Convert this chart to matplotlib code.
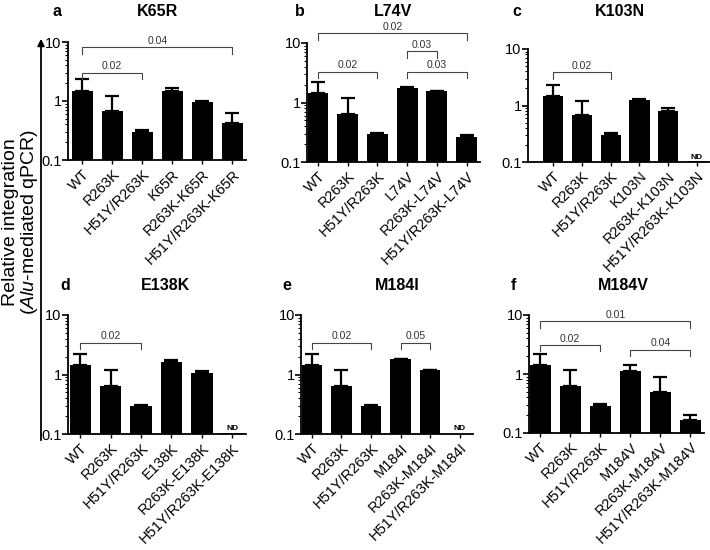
import numpy as np
import matplotlib
matplotlib.use('Agg')
import matplotlib.pyplot as plt
from matplotlib.ticker import FixedLocator, FixedFormatter, LogLocator, NullFormatter

plt.rcParams['font.family'] = ['Liberation Sans', 'DejaVu Sans']
plt.rcParams['mathtext.fontset'] = 'custom'
plt.rcParams['mathtext.rm'] = 'Liberation Sans'
plt.rcParams['mathtext.it'] = 'Liberation Sans:italic'

# data ---------------------------------------------------------------
common = ['WT', 'R263K', 'H51Y/R263K']
mutations = ['K65R', 'L74V', 'K103N', 'E138K', 'M184I', 'M184V']
letters = ['a', 'b', 'c', 'd', 'e', 'f']

# mean relative integration, nan = not detected
mean_a = [1.50, 0.67, 0.30, 1.50, 0.97, 0.42]
mean_b = [1.42, 0.65, 0.29, 1.76, 1.55, 0.265]
mean_c = [1.45, 0.67, 0.30, 1.27, 0.80, 0.104]
mean_d = [1.42, 0.65, 0.30, 1.62, 1.07, 0.104]
mean_e = [1.42, 0.65, 0.29, 1.80, 1.17, np.nan]
mean_f = [1.42, 0.62, 0.29, 1.12, 0.50, 0.166]

# upper error bars
sd_a = [0.85, 0.56, 0.02, 0.15, 0.03, 0.20]
sd_b = [0.83, 0.55, 0.02, 0.04, 0.02, 0.015]
sd_c = [0.85, 0.55, 0.02, 0.01, 0.12, 0.0]
sd_d = [0.78, 0.55, 0.01, 0.10, 0.07, 0.0]
sd_e = [0.78, 0.55, 0.02, 0.05, 0.03, 0.0]
sd_f = [0.78, 0.53, 0.02, 0.32, 0.40, 0.034]

# which bars are ND
nd_c = [5]
nd_d = [5]
nd_e = [5]

# p-value brackets: (from bar, to bar, height, label)
pv_a = [(0, 2, 3.0, '0.02'), (0, 5, 8.2, '0.04')]
pv_b = [(0, 2, 3.3, '0.02'), (3, 5, 3.3, '0.03'), (3, 4, 7.3, '0.03'), (0, 5, 14.5, '0.02')]
pv_c = [(0, 2, 3.85, '0.02')]
pv_d = [(0, 2, 3.4, '0.02')]
pv_e = [(0, 2, 3.4, '0.02'), (3, 4, 3.4, '0.05')]
pv_f = [(0, 2, 3.1, '0.02'), (3, 5, 2.6, '0.04'), (0, 5, 7.8, '0.01')]

means = [mean_a, mean_b, mean_c, mean_d, mean_e, mean_f]
sds = [sd_a, sd_b, sd_c, sd_d, sd_e, sd_f]
nds = [[], [], nd_c, nd_d, nd_e, []]
pvs = [pv_a, pv_b, pv_c, pv_d, pv_e, pv_f]

# layout in pixels: left, right, top, bottom, xmin
W, H = 710, 550
boxes = [(68, 246, 42, 160, -0.47),
         (307, 480, 43, 162, -0.37),
         (528, 710, 49, 162, -0.87),
         (68, 246, 315, 434, -0.40),
         (301, 473, 315, 434, -0.37),
         (529, 704, 315, 433, -0.37)]
heads = [(57, 157, 12), (300, 393, 12), (517, 620, 12),
         (65, 165, 285), (287, 397, 285), (513, 623, 285)]

fig = plt.figure(figsize=(W / 100, H / 100), dpi=100)

for n in range(6):
    l, r, t, b, xmin = boxes[n]
    ax = fig.add_axes([l / W, 1 - b / H, (r - l) / W, (b - t) / H])
    labels = common + [mutations[n]] + ['R263K-' + mutations[n], 'H51Y/R263K-' + mutations[n]]
    x = np.arange(len(labels))
    m = np.array(means[n], dtype=float)
    s = np.array(sds[n], dtype=float)
    ax.bar(x, np.nan_to_num(m, nan=0.0), width=0.7, color='black', bottom=0)
    ok = s > 0
    ax.errorbar(x[ok], m[ok], yerr=[np.zeros(ok.sum()), s[ok]], fmt='none',
                ecolor='black', elinewidth=1.6, capsize=4.7, capthick=1.6)
    ax.set_yscale('log')
    ax.set_ylim(0.1, 10)
    ax.set_xlim(xmin, 5.45)
    ax.yaxis.set_major_locator(FixedLocator([0.1, 1, 10]))
    ax.yaxis.set_major_formatter(FixedFormatter(['0.1', '1', '10']))
    ax.yaxis.set_minor_locator(LogLocator(base=10, subs=np.arange(2, 10)))
    ax.yaxis.set_minor_formatter(NullFormatter())
    ax.set_xticks(x)
    ax.set_xticklabels(labels, rotation=45, ha='right', rotation_mode='anchor', fontsize=10.5)
    ax.tick_params(axis='y', which='major', length=4, width=1.2, labelsize=10.5, pad=0.5)
    ax.tick_params(axis='y', which='minor', length=2.5, width=0.8)
    ax.tick_params(axis='x', length=3, width=1.0, pad=2)
    for side in ['top', 'right']:
        ax.spines[side].set_visible(False)
    for side in ['left', 'bottom']:
        ax.spines[side].set_linewidth(1.3)

    for i in nds[n]:
        ax.text(x[i], 0.106, 'ND', ha='center', va='bottom', fontsize=6,
                fontweight='bold')

    drop = 10 ** 0.11
    for i, j, y, txt in pvs[n]:
        ax.plot([x[i], x[i], x[j], x[j]], [y / drop, y, y, y / drop],
                color='#444444', lw=0.8, clip_on=False)
        ax.text((x[i] + x[j]) / 2, y * 1.06, txt, ha='center', va='bottom',
                fontsize=7.5, color='#333333', clip_on=False)

    lx, tx, ty = heads[n]
    fig.text(lx / W, 1 - ty / H, letters[n], ha='center', va='center',
             fontsize=11.5, fontweight='bold')
    fig.text(tx / W, 1 - ty / H, mutations[n], ha='center', va='center',
             fontsize=11.5, fontweight='bold')

# shared y label with arrow
fig.text(11 / W, 1 - 222 / H, 'Relative integration', rotation=90,
         ha='center', va='center', fontsize=14)
fig.text(30 / W, 1 - 222 / H, '($\\mathit{Alu}$-mediated qPCR)', rotation=90,
         ha='center', va='center', fontsize=14)
fig.add_artist(matplotlib.patches.FancyArrowPatch(
    (41 / W, 1 - 443 / H), (41 / W, 1 - 36 / H), transform=fig.transFigure,
    arrowstyle='-|>', mutation_scale=10, lw=1.3, color='black'))

fig.savefig('out.png', dpi=100)
